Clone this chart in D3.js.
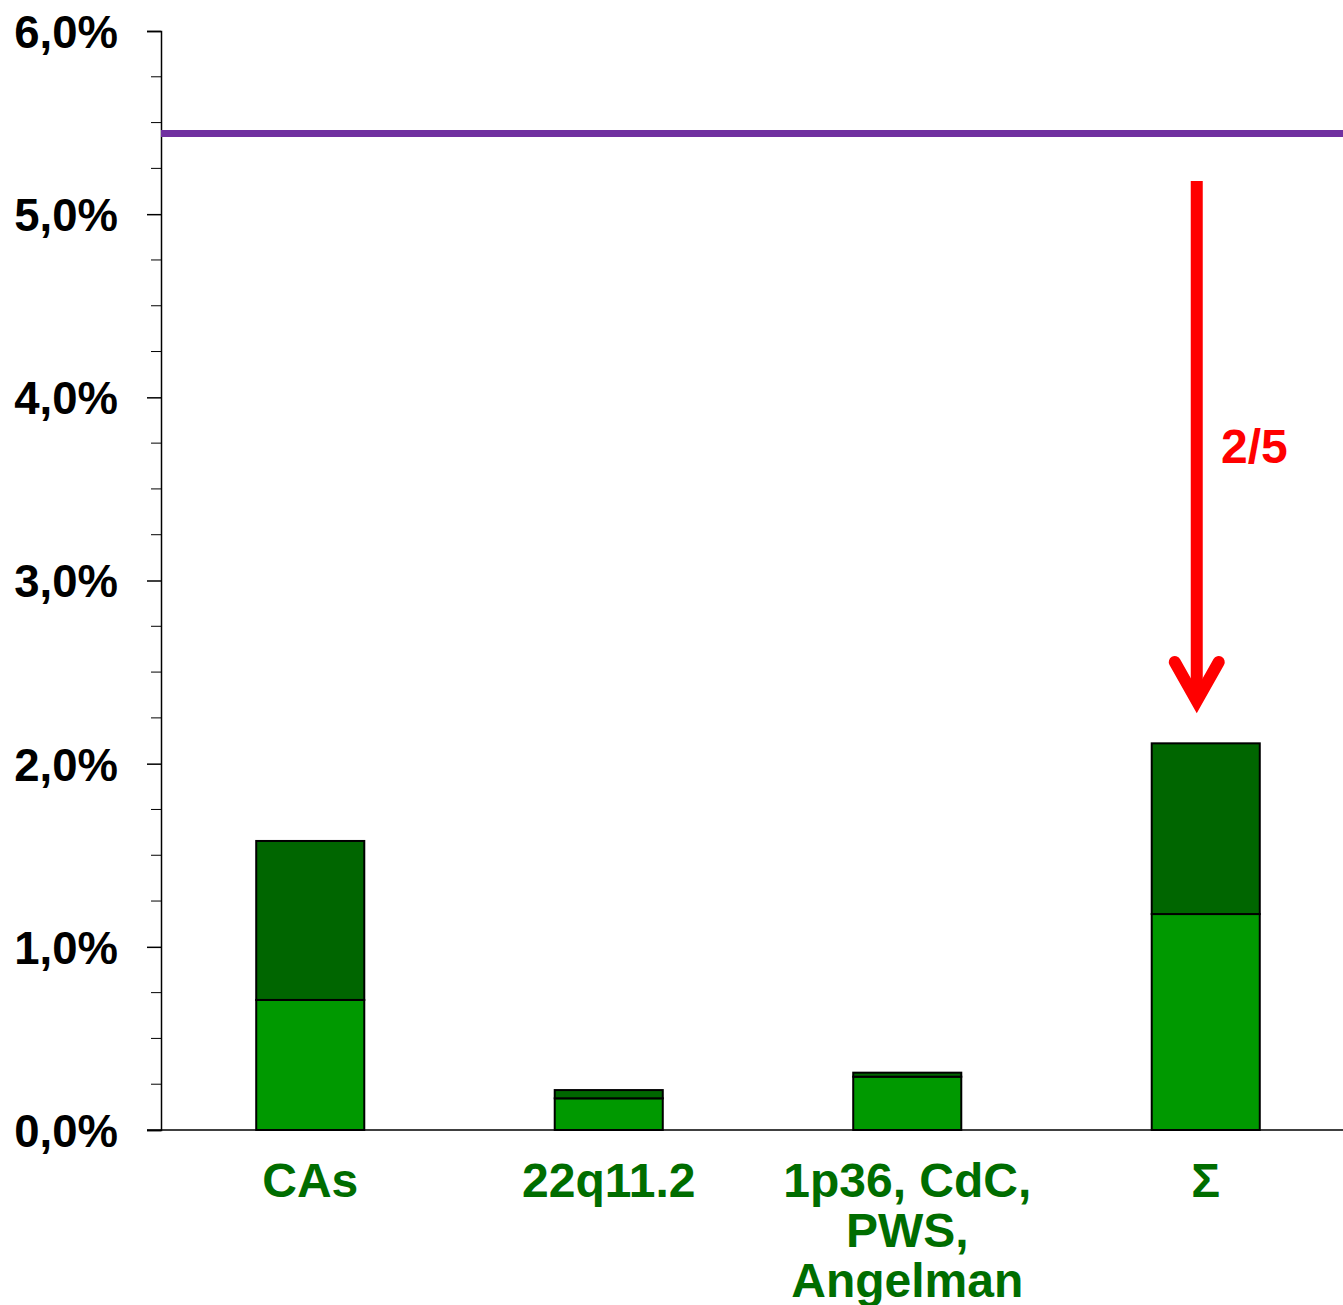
<!DOCTYPE html>
<html>
<head>
<meta charset="utf-8">
<script src="https://cdn.jsdelivr.net/npm/d3@7"></script>
<style>
  html, body { margin: 0; padding: 0; background: #fff; }
  svg { display: block; }
</style>
</head>
<body>
<div id="chart"></div>
<script>
const categories = ["CAs", "22q11.2", "1p36, CdC,\nPWS,\nAngelman", "Σ"];
const lowerValues = [0.71, 0.173, 0.291, 1.179];
const upperValues = [0.868, 0.045, 0.022, 0.932];
const referenceLine = 5.44;
const yTicks = [0, 1, 2, 3, 4, 5, 6];
const arrowLabel = "2/5";

const width = 1343;
const height = 1305;
const font = "'Liberation Sans', Arial, sans-serif";

const svg = d3
  .select("#chart")
  .append("svg")
  .attr("width", width)
  .attr("height", height);

const x = d3
  .scaleBand()
  .domain(categories)
  .range([161, 1355])
  .paddingInner(0.638)
  .paddingOuter(0.319);

const y = d3.scaleLinear().domain([0, 6]).range([1130, 31]);

const formatPct = (d) => d.toFixed(1).replace(".", ",") + "%";

// minor ticks every 0.25
const minorTicks = d3.range(0, 6.001, 0.25).filter((d) => d % 1 !== 0);
svg
  .append("g")
  .selectAll("line")
  .data(minorTicks)
  .enter()
  .append("line")
  .attr("x1", 151)
  .attr("x2", 161)
  .attr("y1", (d) => y(d))
  .attr("y2", (d) => y(d))
  .attr("stroke", "#000")
  .attr("stroke-width", 1);

// y axis
const yAxis = svg
  .append("g")
  .attr("transform", "translate(161,0)")
  .call(
    d3
      .axisLeft(y)
      .tickValues(yTicks)
      .tickFormat(formatPct)
      .tickSize(14)
      .tickPadding(29)
  );
yAxis.select(".domain").attr("stroke", "#000").attr("stroke-width", 1.5);
yAxis.selectAll(".tick line").attr("stroke", "#000").attr("stroke-width", 1.5);
yAxis
  .selectAll(".tick text")
  .attr("font-family", font)
  .attr("font-weight", "bold")
  .attr("font-size", 45.5)
  .attr("fill", "#000")
  .attr("dy", "0.36em");

// x axis baseline
svg
  .append("line")
  .attr("x1", 147)
  .attr("x2", width)
  .attr("y1", y(0))
  .attr("y2", y(0))
  .attr("stroke", "#000")
  .attr("stroke-width", 1.5);

// stacked bars
const stacked = categories.map((c, i) => ({
  cat: c,
  lower: lowerValues[i],
  upper: upperValues[i],
}));

const bars = svg.append("g");
bars
  .selectAll("rect.lower")
  .data(stacked)
  .enter()
  .append("rect")
  .attr("class", "lower")
  .attr("x", (d) => x(d.cat))
  .attr("width", x.bandwidth())
  .attr("y", (d) => y(d.lower))
  .attr("height", (d) => y(0) - y(d.lower))
  .attr("fill", "#009900")
  .attr("stroke", "#000")
  .attr("stroke-width", 2);

bars
  .selectAll("rect.upper")
  .data(stacked)
  .enter()
  .append("rect")
  .attr("class", "upper")
  .attr("x", (d) => x(d.cat))
  .attr("width", x.bandwidth())
  .attr("y", (d) => y(d.lower + d.upper))
  .attr("height", (d) => y(d.lower) - y(d.lower + d.upper))
  .attr("fill", "#006600")
  .attr("stroke", "#000")
  .attr("stroke-width", 2);

// category labels
const labels = svg
  .append("g")
  .selectAll("text")
  .data(categories)
  .enter()
  .append("text")
  .attr("x", (d) => x(d) + x.bandwidth() / 2)
  .attr("y", 1197)
  .attr("text-anchor", "middle")
  .attr("font-family", font)
  .attr("font-weight", "bold")
  .attr("font-size", 48)
  .attr("fill", "#006d00");
labels
  .selectAll("tspan")
  .data((d) => d.split("\n"))
  .enter()
  .append("tspan")
  .attr("x", function () {
    return d3.select(this.parentNode).attr("x");
  })
  .attr("dy", (d, i) => (i === 0 ? 0 : 50))
  .text((d) => d);

// reference line
svg
  .append("line")
  .attr("x1", 161)
  .attr("x2", width)
  .attr("y1", y(referenceLine))
  .attr("y2", y(referenceLine))
  .attr("stroke", "#7030a0")
  .attr("stroke-width", 7);

// red arrow on the last bar
const last = categories[categories.length - 1];
const arrowX = x(last) + x.bandwidth() / 2 - 9;
const arrowTop = 181;
const arrowTip = 705;
svg
  .append("line")
  .attr("x1", arrowX)
  .attr("x2", arrowX)
  .attr("y1", arrowTop)
  .attr("y2", arrowTip - 6)
  .attr("stroke", "#ff0000")
  .attr("stroke-width", 12);
svg
  .append("polyline")
  .attr(
    "points",
    [
      [arrowX - 22, 662],
      [arrowX, arrowTip - 4],
      [arrowX + 22, 662],
    ].join(" ")
  )
  .attr("fill", "none")
  .attr("stroke", "#ff0000")
  .attr("stroke-width", 12)
  .attr("stroke-linecap", "round")
  .attr("stroke-linejoin", "miter");

svg
  .append("text")
  .attr("x", 1221)
  .attr("y", 463)
  .attr("font-family", font)
  .attr("font-weight", "bold")
  .attr("font-size", 48)
  .attr("fill", "#ff0000")
  .text(arrowLabel);
</script>
</body>
</html>
